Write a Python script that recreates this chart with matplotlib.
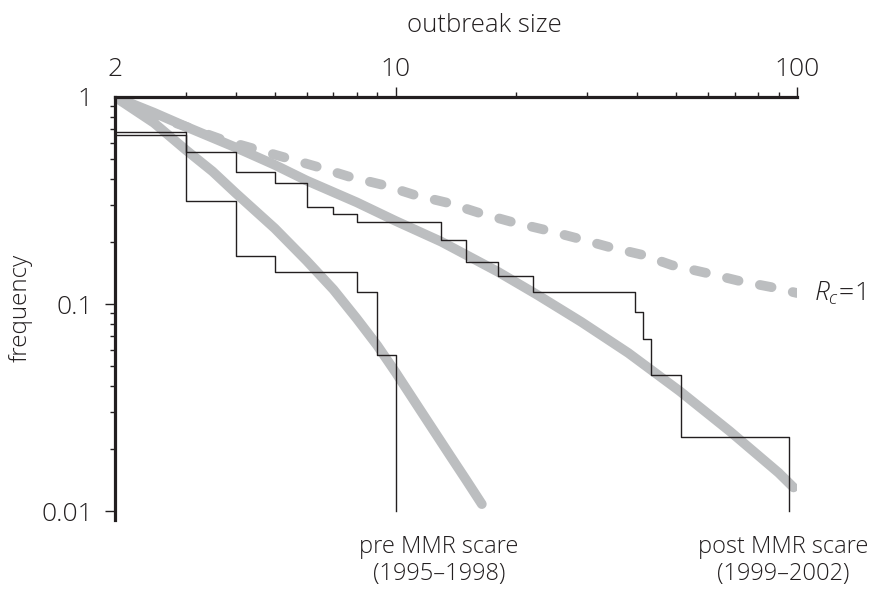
import matplotlib
matplotlib.use("Agg")
import matplotlib.pyplot as plt
from matplotlib.ticker import FixedLocator, NullFormatter

plt.rcParams['font.family'] = ['Open Sans', 'DejaVu Sans']
plt.rcParams['font.weight'] = 'light'
plt.rcParams['axes.labelweight'] = 'light'
plt.rcParams['mathtext.fontset'] = 'custom'
plt.rcParams['mathtext.rm'] = 'Open Sans:light'
plt.rcParams['mathtext.it'] = 'Open Sans:italic:light'

# observed outbreak size distributions (step curves)
pre_x = [2, 3, 4, 5, 8, 9, 10, 10]
pre_y = [0.655, 0.314, 0.171, 0.143, 0.114, 0.057, 0.057, 0.01]
post_x = [2, 3, 4, 5, 6, 7, 8, 13, 15, 18, 22, 39.5, 41.4, 43.4, 51.4, 95.5, 95.5]
post_y = [0.675, 0.545, 0.432, 0.386, 0.295, 0.273, 0.25, 0.204, 0.159, 0.136,
          0.114, 0.091, 0.068, 0.0455, 0.0227, 0.0227, 0.01]

# fitted curves (grey)
fit_pre_x = [2, 2.5, 3, 3.5, 4, 5, 6, 7, 8, 9, 10, 11.5, 13.7, 15, 16.4]
fit_pre_y = [1, 0.75, 0.556, 0.437, 0.343, 0.232, 0.162, 0.1175, 0.0851, 0.0631,
             0.0468, 0.0309, 0.0184, 0.0141, 0.0108]
fit_post_x = [2, 2.5, 3, 4, 5, 6, 8, 10, 13, 18, 22.5, 29, 38, 51, 68, 90, 98]
fit_post_y = [1, 0.84, 0.72, 0.57, 0.47, 0.395, 0.31, 0.252, 0.2, 0.143, 0.111,
              0.082, 0.058, 0.038, 0.0243, 0.0153, 0.013]
rc1_x = [2, 2.49, 3.07, 3.72, 4.46, 5.36, 6.41, 7.7, 9.31, 11.17, 13.5, 16.2, 19.5,
         23.6, 28.3, 34.2, 41.1, 48.8, 59.7, 72.1, 85.7, 100]
rc1_y = [1, 0.818, 0.708, 0.62, 0.561, 0.507, 0.459, 0.411, 0.376, 0.336, 0.308, 0.275,
         0.249, 0.228, 0.208, 0.188, 0.173, 0.154, 0.141, 0.129, 0.121, 0.113]

ink = '#231f20'
grey = '#bcbec0'

fig = plt.figure(figsize=(8.9, 5.9), dpi=100)
ax = fig.add_axes([115/890, 1-519.5/590, 682/890, 422.5/590])
ax.set_xscale('log')
ax.set_yscale('log')

ax.plot(fit_pre_x, fit_pre_y, color=grey, lw=7, solid_capstyle='round',
        solid_joinstyle='round', zorder=1)
ax.plot(fit_post_x, fit_post_y, color=grey, lw=7, solid_capstyle='round',
        solid_joinstyle='round', zorder=1)
ax.plot(rc1_x, rc1_y, color=grey, lw=7, dashes=(1.23, 2.23), dash_capstyle='round', zorder=1)

ax.step(pre_x, pre_y, where='post', color=ink, lw=1.0, zorder=3)
ax.step(post_x, post_y, where='post', color=ink, lw=1.0, zorder=3)

ax.set_xlim(2, 100)
ax.set_ylim(0.0091, 1)

for s in ['right', 'bottom']:
    ax.spines[s].set_visible(False)
for s in ['top', 'left']:
    ax.spines[s].set_linewidth(2.3)
    ax.spines[s].set_color(ink)

ax.xaxis.tick_top()
ax.xaxis.set_label_position('top')
ax.xaxis.set_major_locator(FixedLocator([2, 10, 100]))
ax.xaxis.set_minor_locator(FixedLocator([3, 4, 5, 6, 7, 8, 9, 20, 30, 40, 50, 60, 70, 80, 90]))
ax.set_xticklabels(['2', '10', '100'])
ax.xaxis.set_minor_formatter(NullFormatter())

ax.yaxis.set_major_locator(FixedLocator([0.01, 0.1, 1]))
ax.yaxis.set_minor_locator(FixedLocator([0.02, 0.03, 0.04, 0.05, 0.06, 0.07, 0.08, 0.09,
                                         0.2, 0.3, 0.4, 0.5, 0.6, 0.7, 0.8, 0.9]))
ax.set_yticklabels(['0.01', '0.1', '1'])
ax.yaxis.set_minor_formatter(NullFormatter())

ax.tick_params(which='major', length=7, width=1, color=ink, labelsize=19,
               labelcolor=ink, pad=4)
ax.tick_params(axis='y', which='major', pad=9)
ax.tick_params(which='minor', length=3.5, width=1, color=ink)
ax.xaxis.get_major_ticks()[0].tick2line.set_visible(False)
ax.yaxis.get_major_ticks()[-1].tick1line.set_visible(False)

ax.set_xlabel('outbreak size', fontsize=18.5, color=ink, labelpad=18)
ax.xaxis.label.set_x(0.541)
ax.set_ylabel('frequency', fontsize=17.5, color=ink, labelpad=6)

ax.annotate(r'$R_c\!=\!1$', xy=(rc1_x[-1], rc1_y[-1]), xytext=(12, 0),
            textcoords='offset points', fontsize=19, color=ink,
            va='center', ha='left', annotation_clip=False)

fig.text(439/890, 1-535/590, 'pre MMR scare\n(1995–1998)', ha='center', va='top',
         fontsize=17, color=ink, linespacing=1.15)
fig.text(783/890, 1-535/590, 'post MMR scare\n(1999–2002)', ha='center', va='top',
         fontsize=17, color=ink, linespacing=1.15)

fig.savefig('out.png', dpi=100)
